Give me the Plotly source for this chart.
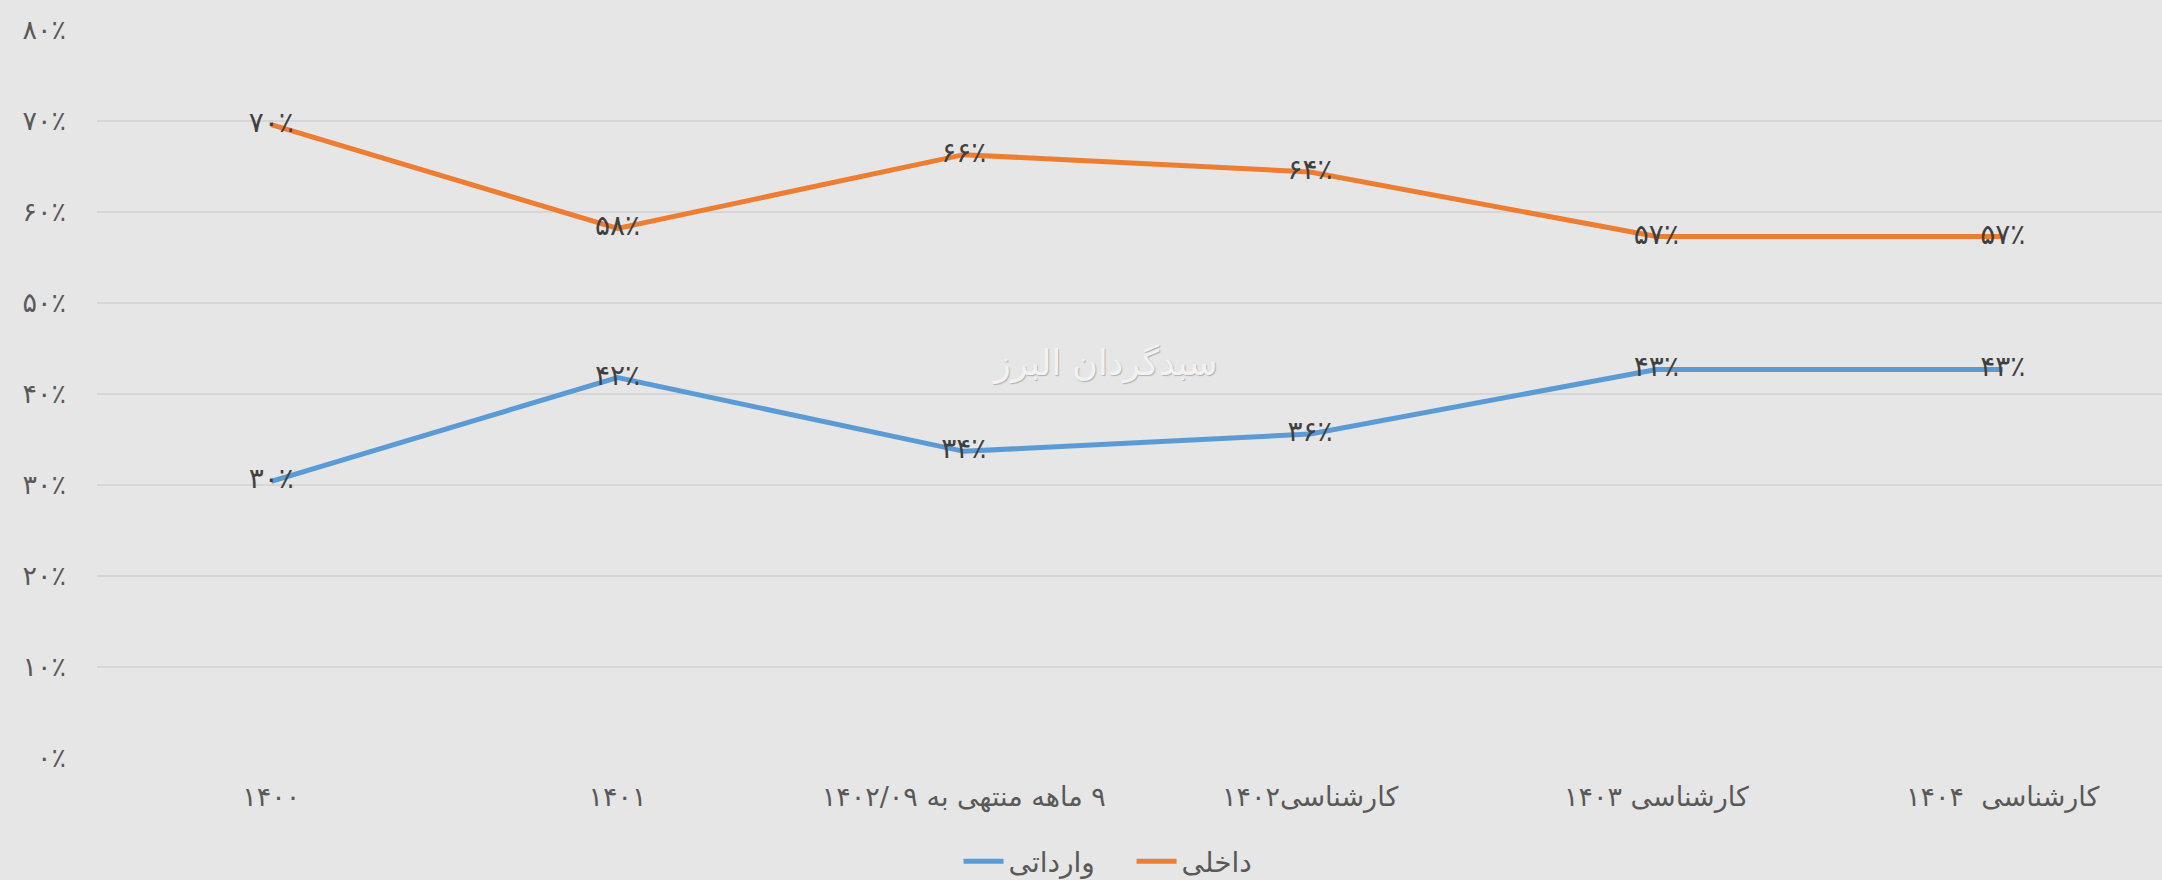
import plotly.graph_objects as go

categories = [
    "۱۴۰۰",
    "۱۴۰۱",
    "۹ ماهه منتهی به ۱۴۰۲/۰۹",
    "کارشناسی۱۴۰۲",
    "کارشناسی ۱۴۰۳",
    "کارشناسی  ۱۴۰۴",
]
domestic_name = "داخلی"
imported_name = "وارداتی"
domestic = [69.6, 58.2, 66.3, 64.4, 57.3, 57.3]
imported = [30.4, 41.8, 33.7, 35.6, 42.7, 42.7]
y_ticks = [0, 10, 20, 30, 40, 50, 60, 70, 80]
watermark = "سبدگردان البرز"

FA = str.maketrans("0123456789", "۰۱۲۳۴۵۶۷۸۹")


def fa_pct(v):
    return str(int(round(v))).translate(FA) + "٪"


def rtl(s):
    return "\u202b" + s + "\u202c"


FONT = "DejaVu Sans, Noto Sans, sans-serif"
x_idx = list(range(len(categories)))

fig = go.Figure()
fig.add_trace(go.Scatter(
    x=x_idx, y=imported, name=imported_name, mode="lines+text",
    line=dict(color="#5B9BD5", width=5),
    text=[fa_pct(v) for v in imported], textposition="middle center",
    textfont=dict(family=FONT, size=28, color="#404040"),
))
fig.add_trace(go.Scatter(
    x=x_idx, y=domestic, name=domestic_name, mode="lines+text",
    line=dict(color="#ED7D31", width=5),
    text=[fa_pct(v) for v in domestic], textposition="middle center",
    textfont=dict(family=FONT, size=28, color="#404040"),
))

fig.add_annotation(
    text=watermark, xref="paper", yref="y", x=0.488, y=43.4,
    showarrow=False,
    font=dict(family=FONT, size=35, color="#F2F2F2", shadow="1px 1px 1px #B0B0B0"),
)

fig.update_layout(
    width=2162, height=880,
    paper_bgcolor="#E6E6E6", plot_bgcolor="#E6E6E6",
    margin=dict(l=97, r=0, t=30, b=122, autoexpand=False),
    font=dict(family=FONT, size=26, color="#595959"),
    showlegend=True,
    legend=dict(orientation="h", x=0.501, xanchor="center",
                yref="container", y=0.021, yanchor="middle",
                font=dict(family=FONT, size=28, color="#595959"),
                bgcolor="rgba(0,0,0,0)", itemwidth=40,
                entrywidth=118, entrywidthmode="pixels"),
    xaxis=dict(
        range=[-0.503, 5.46], tickvals=x_idx, ticktext=[rtl(c) for c in categories],
        showgrid=False, zeroline=False, showline=False, ticks="",
        tickfont=dict(family=FONT, size=27, color="#595959"),
        ticklabelstandoff=20,
    ),
    yaxis=dict(
        range=[0, 80], tickvals=y_ticks, ticktext=[fa_pct(v) for v in y_ticks],
        showgrid=True, gridcolor="#D6D6D6", gridwidth=2, zeroline=False,
        showline=False, ticks="",
        tickfont=dict(family=FONT, size=27, color="#595959"),
        ticklabelstandoff=30,
    ),
)

fig.write_html(
    "out.html",
    config={"displayModeBar": False},
    post_script="document.body.style.margin='0';document.body.style.background='#E6E6E6';",
)
